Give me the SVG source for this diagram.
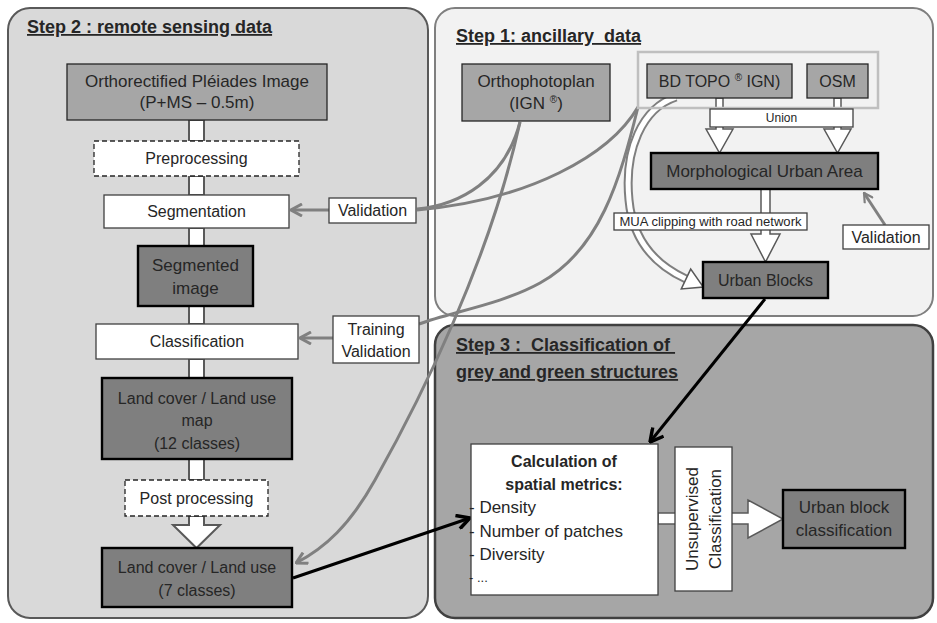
<svg xmlns="http://www.w3.org/2000/svg" width="937" height="623" viewBox="0 0 937 623">
<style>
.t{font-family:"Liberation Sans",Arial,sans-serif;fill:#262626;text-anchor:middle}
.f16{font-size:16px}.f17{font-size:17px}.f12{font-size:12px}
.ttl{font-family:"Liberation Sans",Arial,sans-serif;fill:#262626;font-size:18px;font-weight:bold;text-decoration:underline}
.mid{fill:#a6a6a6;stroke:#262626;stroke-width:1.3}
.dark{fill:#7f7f7f;stroke:#000;stroke-width:2.4}
.wht{fill:#fff;stroke:#404040;stroke-width:1.3}
.dash{fill:#fff;stroke:#262626;stroke-width:1.3;stroke-dasharray:5 3}
.bar{fill:#fff;stroke:#595959;stroke-width:2}
.bar2{fill:#fff;stroke:#595959;stroke-width:1.5}
.gl{fill:none;stroke:#808080;stroke-width:3}
.bl{fill:none;stroke:#000;stroke-width:3}
</style>
<defs>
<marker id="mg" viewBox="0 0 14 14" refX="13" refY="7" markerWidth="14" markerHeight="14" markerUnits="userSpaceOnUse" orient="auto"><path d="M2,1 L13,7 L2,13" fill="none" stroke="#808080" stroke-width="3"/></marker>
<marker id="mg2" viewBox="0 0 12 12" refX="11" refY="6" markerWidth="12" markerHeight="12" markerUnits="userSpaceOnUse" orient="auto"><path d="M2,1 L11,6 L2,11" fill="none" stroke="#808080" stroke-width="2.2"/></marker>
<marker id="mb" viewBox="0 0 16 16" refX="15" refY="8" markerWidth="16" markerHeight="16" markerUnits="userSpaceOnUse" orient="auto"><path d="M2,1 L15,8 L2,15" fill="none" stroke="#000" stroke-width="3.5"/></marker>
</defs>
<rect width="937" height="623" fill="#fff"/>
<g id="panel-step2"><rect x="8" y="8" width="420" height="610" rx="22" fill="#d9d9d9" stroke="#595959" stroke-width="2"/><text class="ttl" x="27" y="33">Step 2 : remote sensing data</text></g>
<g id="panel-step1"><rect x="435" y="8" width="498" height="308" rx="20" fill="#f2f2f2" stroke="#7f7f7f" stroke-width="2"/><text class="ttl" x="456" y="42" xml:space="preserve">Step 1: ancillary  data</text></g>
<g id="panel-step3"><rect x="435" y="325" width="498" height="293" rx="20" fill="#a6a6a6" stroke="#404040" stroke-width="2.5"/><text class="ttl" x="456" y="351" xml:space="preserve">Step 3 :  Classification of </text><text class="ttl" x="456" y="378">grey and green structures</text></g>
<g id="connectors">
<rect class="bar" x="189" y="120" width="15" height="21"/>
<rect class="bar" x="189" y="176" width="15" height="19"/>
<rect class="bar" x="189" y="228" width="15" height="18"/>
<rect class="bar" x="189" y="306" width="15" height="18"/>
<rect class="bar" x="189" y="359" width="15" height="19"/>
<rect class="bar" x="189" y="459" width="15" height="21"/>
<polygon class="bar" points="189,516 204,516 204,525 220,525 196.5,548 173,525 189,525"/>
<rect class="bar2" x="716" y="98" width="7" height="12"/>
<rect class="bar2" x="834" y="98" width="7" height="12"/>
<polygon class="bar2" points="716,125 723,125 723,129 733,129 719.5,153 706,129 716,129"/>
<polygon class="bar2" points="834,125 841,125 841,129 851,129 837.5,153 824,129 834,129"/>
<polygon class="bar2" points="761,189 770,189 770,234 780,234 765.5,262 751,234 761,234"/>
<path d="M676,97 C642,108 624,150 629,200 C633,245 660,267 686,279" fill="none" stroke="#7f7f7f" stroke-width="9"/>
<path d="M676,97 C642,108 624,150 629,200 C633,245 660,267 686,279" fill="none" stroke="#fff" stroke-width="5"/>
<polygon class="bar2" points="681.3,288.9 690.7,269.1 703.3,287"/>
<polygon class="bar2" points="658,513 748,513 748,500 783,519 748,538 748,524 658,524"/>
<path class="gl" d="M520,122 C505,180 460,205 417,209"/>
<path class="gl" d="M638,107 C610,155 530,200 417,210"/>
<path class="gl" d="M638,107 C620,180 600,250 540,283 C500,305 450,312 419,324"/>
<path class="gl" d="M520,122 C490,260 420,400 375,480 C350,525 325,548 296,563" marker-end="url(#mg)"/>
<path class="gl" d="M329,210 L291,210" marker-end="url(#mg)"/>
<path class="gl" d="M333,338 L300,338" marker-end="url(#mg)"/>
<path class="gl" stroke-width="2.2" d="M885,225 L864,193" marker-end="url(#mg2)"/>
<path class="bl" d="M765,299 L650,442" marker-end="url(#mb)"/>
<path class="bl" d="M293,578 L470,518" marker-end="url(#mb)"/>
</g>
<g id="n-ortho-pleiades"><rect class="mid" x="67" y="64" width="260" height="56"/><text class="t f17" x="197" y="87">Orthorectified Pléiades Image</text><text class="t f17" x="197" y="108">(P+MS – 0.5m)</text></g>
<g id="n-preprocessing"><rect class="dash" x="94" y="141" width="205" height="35"/><text class="t f16" x="196.5" y="164">Preprocessing</text></g>
<g id="n-segmentation"><rect class="wht" x="104" y="195" width="185" height="33"/><text class="t f16" x="196.5" y="217">Segmentation</text></g>
<g id="n-validation-seg"><rect class="wht" x="329" y="198" width="87" height="25"/><text class="t f16" x="372.5" y="216">Validation</text></g>
<g id="n-segmented"><rect class="dark" x="138" y="246" width="115" height="60"/><text class="t f17" x="195.5" y="271">Segmented</text><text class="t f17" x="195.5" y="294">image</text></g>
<g id="n-classification"><rect class="wht" x="96" y="324" width="202" height="35"/><text class="t f16" x="197" y="347">Classification</text></g>
<g id="n-training"><rect class="wht" x="333" y="316" width="86" height="47"/><text class="t f16" x="376" y="335">Training</text><text class="t f16" x="376" y="357">Validation</text></g>
<g id="n-lcmap12"><rect class="dark" x="102" y="378" width="190" height="81"/><text class="t f16" x="197" y="404">Land cover / Land use</text><text class="t f16" x="197" y="426">map</text><text class="t f16" x="197" y="449">(12 classes)</text></g>
<g id="n-postprocessing"><rect class="dash" x="125" y="480" width="143" height="36"/><text class="t f16" x="196.5" y="504">Post processing</text></g>
<g id="n-lc7"><rect class="dark" x="102" y="548" width="190" height="59"/><text class="t f16" x="197" y="573">Land cover / Land use</text><text class="t f16" x="197" y="596">(7 classes)</text></g>
<g id="n-orthophotoplan"><rect class="mid" x="462" y="64" width="148" height="57"/><text class="t f17" x="536" y="87">Orthophotoplan</text><text class="t f17" x="536" y="109">(IGN <tspan font-size="10" dy="-6">®</tspan><tspan dy="6">)</tspan></text></g>
<g id="n-vector-group"><rect x="638" y="52" width="240" height="56" fill="none" stroke="#bfbfbf" stroke-width="2.5"/></g>
<g id="n-bdtopo"><rect class="mid" x="647" y="64" width="145" height="34"/><text class="t f16" x="719.5" y="87">BD TOPO <tspan font-size="10" dy="-6">®</tspan><tspan dy="6"> IGN)</tspan></text></g>
<g id="n-osm"><rect class="mid" x="807" y="64" width="61" height="34"/><text class="t f16" x="837.5" y="87">OSM</text></g>
<g id="n-union"><rect class="wht" x="710" y="109" width="143" height="18"/><text class="t f12" x="781.5" y="122">Union</text></g>
<g id="n-mua"><rect class="dark" x="651" y="153" width="227" height="36"/><text class="t f17" x="764.5" y="177">Morphological Urban Area</text></g>
<g id="n-clipping"><rect class="wht" x="614" y="213" width="193" height="17"/><text class="t" font-size="12.5" x="710.5" y="226" textLength="182" lengthAdjust="spacingAndGlyphs">MUA clipping with road network</text></g>
<g id="n-validation-mua"><rect class="wht" x="843" y="225" width="86" height="24"/><text class="t f16" x="886" y="243">Validation</text></g>
<g id="n-urbanblocks"><rect class="dark" x="703" y="262" width="125" height="36"/><text class="t f16" x="765.5" y="286">Urban Blocks</text></g>
<g id="n-metrics"><rect class="wht" x="471" y="444" width="187" height="151"/><text class="t f16" font-weight="bold" x="564" y="467">Calculation of</text><text class="t f16" font-weight="bold" x="564" y="490">spatial metrics:</text><text class="t f17" style="text-anchor:start" x="469" y="513">- Density</text><text class="t f17" style="text-anchor:start" x="469" y="537">- Number of patches</text><text class="t f17" style="text-anchor:start" x="469" y="560">- Diversity</text><text class="t" font-size="13" style="text-anchor:start" x="469" y="582">- ...</text></g>
<g id="n-unsupervised"><rect class="wht" x="675" y="447" width="57" height="144"/><text class="t f17" transform="translate(698,519) rotate(-90)">Unsupervised</text><text class="t f17" transform="translate(721,519) rotate(-90)">Classification</text></g>
<g id="n-ubclass"><rect class="dark" x="783" y="490" width="122" height="58"/><text class="t f17" x="844" y="513">Urban block</text><text class="t f17" x="844" y="536">classification</text></g>
</svg>
